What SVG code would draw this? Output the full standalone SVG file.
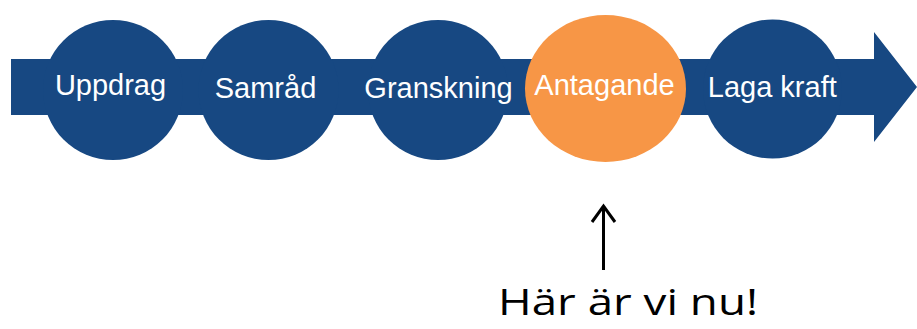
<svg xmlns="http://www.w3.org/2000/svg" width="917" height="329" viewBox="0 0 917 329">
<style>
.b{fill:#174882}
.o{fill:#F79646}
.t{fill:#fff;font-family:"Liberation Sans",Arial,sans-serif;font-size:29px;text-anchor:middle}
.n{fill:#000;font-family:"Open Sans","Noto Sans",sans-serif;font-size:36px;text-anchor:middle}
</style>
<g id="band">
<polygon class="b" points="11,59 874,59 874,32 917,87 874,142 874,115 11,115"/>
</g>
<g id="uppdrag"><circle class="b" cx="113" cy="90" r="70"/><text class="t" x="110.5" y="95">Uppdrag</text></g>
<g id="samrad"><circle class="b" cx="268.5" cy="90" r="70"/><text class="t" x="265.5" y="97.5">Samråd</text></g>
<g id="granskning"><circle class="b" cx="438" cy="90" r="70"/><text class="t" x="438.5" y="97.5">Granskning</text></g>
<g id="antagande"><ellipse class="o" cx="605.5" cy="88.5" rx="80.5" ry="73.5"/><text class="t" x="604.5" y="95">Antagande</text></g>
<g id="laga-kraft"><circle class="b" cx="772.5" cy="89" r="69.5"/><text class="t" x="772.3" y="96.5">Laga kraft</text></g>
<g id="connectors">
<line x1="603.5" y1="270" x2="603.5" y2="206" stroke="#000" stroke-width="3"/>
<polyline points="592,222 603.5,206 615,222" fill="none" stroke="#000" stroke-width="3"/>
</g>
<g id="label"><text class="n" x="628" y="315" textLength="260" lengthAdjust="spacingAndGlyphs">Här är vi nu!</text></g>
</svg>
